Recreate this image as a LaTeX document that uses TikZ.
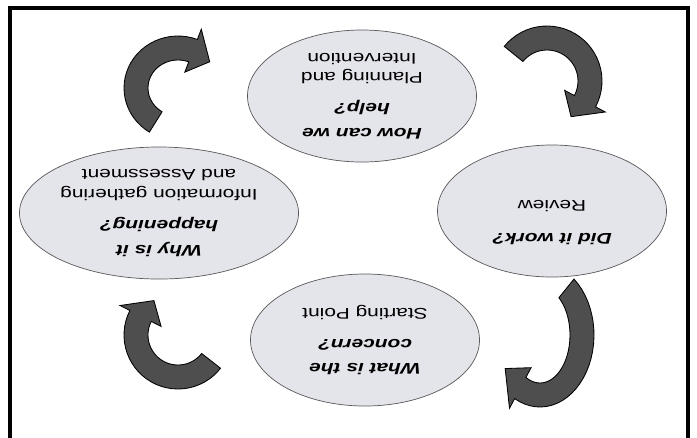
\documentclass[tikz,border=0pt]{standalone}
\usepackage{fontspec}
\setmainfont{Liberation Sans}
\usetikzlibrary{shapes.geometric}
\definecolor{bubblegray}{RGB}{228,228,235}
\definecolor{arrowgray}{RGB}{78,78,78}
\newcommand{\ask}[1]{{\bfseries\itshape #1}}
% centre x, centre y, x radius, y radius, tail angle, head angle, tip angle
\newcommand{\bentarrow}[7]{%
  \filldraw[fill=arrowgray,draw=black,line width=0.6pt]
    plot[domain=#5:#6,samples=30] ({#1+(#3+12)*cos(\x)},{#2+(#4+12)*sin(\x)})
    -- ({#1+(#3+23)*cos(#6)},{#2+(#4+23)*sin(#6)})
    -- ({#1+#3*cos(#7)},{#2+#4*sin(#7)})
    -- ({#1+(#3-23)*cos(#6)},{#2+(#4-23)*sin(#6)})
    -- plot[domain=#5:#6,samples=30] ({#1+(#3-12)*cos((#5)+(#6)-(\x))},{#2+(#4-12)*sin((#5)+(#6)-(\x))})
    -- cycle;}

\begin{document}
\begin{tikzpicture}[x=0.025cm,y=-0.025cm,
  stage/.style={ellipse,draw=black!65,fill=bubblegray,line width=0.5pt,
    minimum width=4.24cm,minimum height=3.3cm,inner sep=0pt,align=center,
    rotate=180,xscale=1.35,transform shape,font=\fontsize{11}{14}\selectfont}]
  \useasboundingbox (0,0) rectangle (697,437);
  \draw[line width=3pt] (10,440) -- (10,8) -- (688,8) -- (688,440);

  \node[stage] (plan) at (362,96) {\ask{How can we}\\[3.7pt]\ask{help?}\\[8pt]Planning and\\Intervention};
  \node[stage] (review) at (552,211) {\ask{Did it work?}\\[9.4pt]Review\\[3pt]\mbox{}};
  \node[stage] (concern) at (365,340) {\ask{What is the}\\[3.7pt]\ask{concern?}\\[8pt]Starting Point};
  \node[stage] (why) at (159,213) {\ask{Why is it}\\[3.7pt]\ask{happening?}\\[8pt]Information gathering\\and Assessment};

  \bentarrow{547}{81}{43}{43}{-141}{28}{56}
  \bentarrow{540}{335}{42}{60}{-51}{118}{146}
  \bentarrow{178}{335}{42}{42}{38}{207}{235}
  \bentarrow{178}{88}{42}{40}{122}{291}{319}
\end{tikzpicture}
\end{document}
